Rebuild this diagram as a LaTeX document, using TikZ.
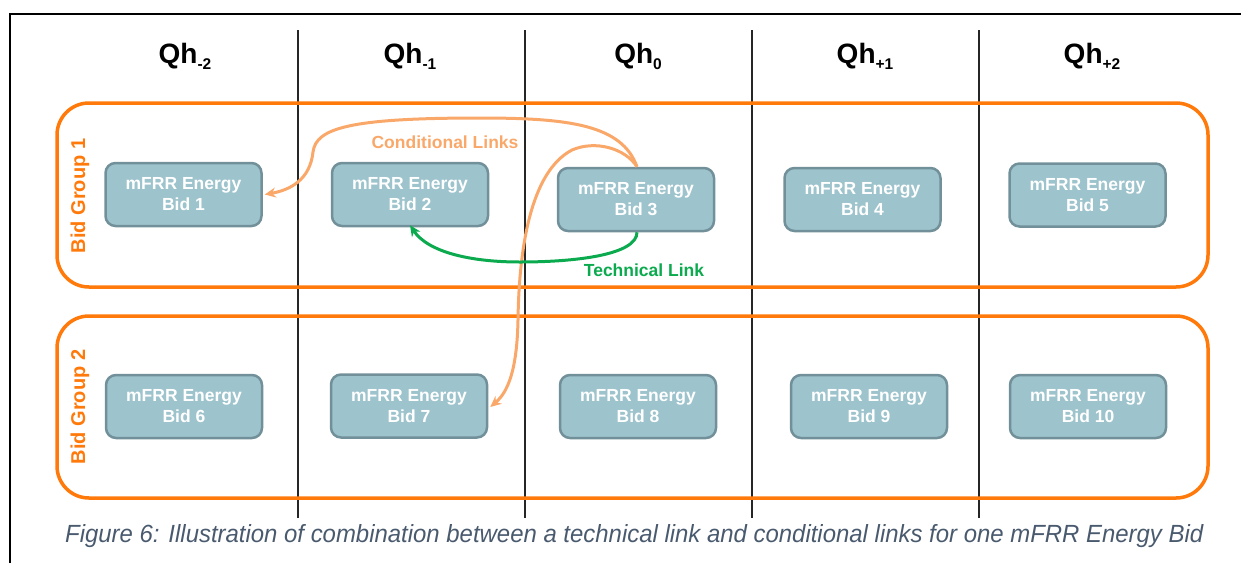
\documentclass[tikz,border=0pt]{standalone}
\usepackage{fontspec}
\setmainfont{Liberation Sans}
\usetikzlibrary{arrows.meta}
\definecolor{grouporange}{HTML}{FF7A0A}
\definecolor{linkorange}{HTML}{F9A86A}
\definecolor{linkgreen}{HTML}{0BAA4E}
\definecolor{bidfill}{HTML}{9DC3CC}
\definecolor{biddraw}{HTML}{72909A}
\definecolor{captioncol}{HTML}{4A5A6E}
\tikzset{
  bidbox/.style={draw=biddraw, fill=bidfill, line width=2.5pt, rounded corners=10pt,
    minimum width=156pt, minimum height=63pt, align=center, text=white,
    font=\fontsize{17.5}{21}\selectfont\bfseries, inner sep=0pt},
  groupbox/.style={draw=grouporange, line width=3.5pt, rounded corners=32pt},
  grouplabel/.style={text=grouporange, font=\fontsize{20}{24}\selectfont\bfseries, rotate=90},
  colsep/.style={draw=black!85, line width=1.3pt},
  header/.style={font=\fontsize{28}{30}\selectfont\bfseries, anchor=base},
  condlink/.style={draw=linkorange, line width=3pt, -{Stealth[length=11pt,width=10pt]}},
  techlink/.style={draw=linkgreen, line width=3pt, -{Stealth[length=11pt,width=10pt]}},
}
\newcommand{\qhsub}[1]{\raisebox{-6pt}{\fontsize{15.5}{15.5}\selectfont #1}}
\begin{document}
\begin{tikzpicture}[x=1pt,y=-1pt]
\useasboundingbox (0,0) rectangle (1241,563);
% frame
\draw[line width=2.2pt] (10,563) -- (10,14) -- (1241,14);
% column separators
\foreach \xx in {298,525,752,979} \draw[colsep] (\xx,30) -- (\xx,518);
% headers
\node[header] (h1) at (185,63) {Qh\qhsub{-2}};
\node[header] (h2) at (410,63) {Qh\qhsub{-1}};
\node[header] (h3) at (638,63) {Qh\qhsub{0}};
\node[header] (h4) at (865,63) {Qh\qhsub{+1}};
\node[header] (h5) at (1092,63) {Qh\qhsub{+2}};
% groups
\draw[groupbox] (57,103) rectangle (1208,287);
\draw[groupbox] (57,316) rectangle (1208,498);
\node[grouplabel] (g1) at (80,196) {Bid Group 1};
\node[grouplabel] (g2) at (80,407) {Bid Group 2};
% bids
\node[bidbox] (b1) at (183.5,194.5) {mFRR Energy\\Bid 1};
\node[bidbox] (b2) at (410,194.5) {mFRR Energy\\Bid 2};
\node[bidbox] (b3) at (636,199.5) {mFRR Energy\\Bid 3};
\node[bidbox] (b4) at (862.5,199.5) {mFRR Energy\\Bid 4};
\node[bidbox] (b5) at (1087.5,195) {mFRR Energy\\Bid 5};
\node[bidbox] (b6) at (184,406.5) {mFRR Energy\\Bid 6};
\node[bidbox] (b7) at (409,406) {mFRR Energy\\Bid 7};
\node[bidbox] (b8) at (638,406.5) {mFRR Energy\\Bid 8};
\node[bidbox] (b9) at (869,406.5) {mFRR Energy\\Bid 9};
\node[bidbox] (b10) at (1088,406.5) {mFRR Energy\\Bid 10};
% links
\draw[condlink] ([xshift=1pt]b3.north) .. controls (622,125) and (570,118) .. (480,118)
  .. controls (350,118) and (316,128) .. (313,152)
  .. controls (310,180) and (290,190) .. ([xshift=2pt]b1.east);
\draw[condlink] ([xshift=1pt]b3.north) .. controls (625,148) and (595,140) .. (572,150)
  .. controls (530,172) and (519,250) .. (518,320)
  .. controls (517,370) and (508,392) .. ([xshift=2pt,yshift=-1pt]b7.east);
\draw[techlink] ([xshift=1pt]b3.south) .. controls (637,255) and (575,262) .. (520,262)
  .. controls (470,262) and (428,252) .. ([yshift=2pt]b2.south);
\node[text=linkorange, font=\fontsize{17.5}{20}\selectfont\bfseries] (cl) at (445,142) {Conditional Links};
\node[text=linkgreen, font=\fontsize{17.5}{20}\selectfont\bfseries] (tl) at (644,270) {Technical Link};
% caption
\node[text=captioncol, anchor=base west, inner sep=0pt] (cap) at (65,542)
  {\resizebox{1138pt}{18pt}{\fontsize{20}{24}\selectfont\itshape Figure 6: Illustration of combination between a technical link and conditional links for one mFRR Energy Bid}};
\end{tikzpicture}
\end{document}
